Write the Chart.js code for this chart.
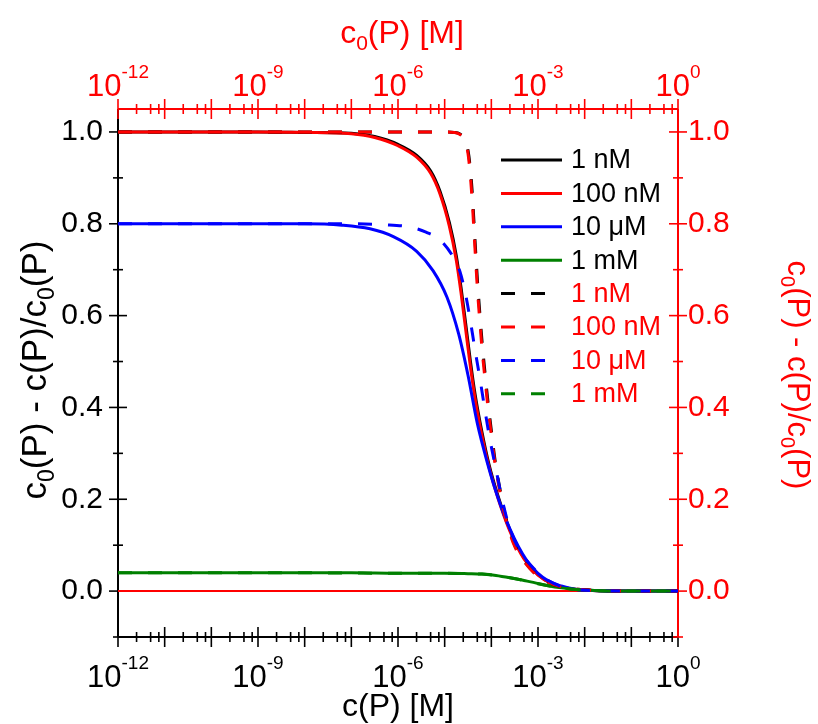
<!DOCTYPE html>
<html>
<head>
<meta charset="utf-8">
<script src="https://cdn.jsdelivr.net/npm/chart.js@4/dist/chart.umd.min.js"></script>
<style>
  html, body { margin: 0; padding: 0; background: #fff; }
  #wrap { width: 818px; height: 724px; }
</style>
</head>
<body>
<div id="wrap"><canvas id="chart" width="818" height="724"></canvas></div>
<script>
// log10 of c(P) (solid) or c0(P) (dashed) in M, with the fraction
const expSolidBlack = [-12, -9, -8, -7, -6.5, -6.0, -5.6, -5.3, -5.1, -4.9, -4.75, -4.65, -4.55, -4.45, -4.35, -4.2, -4.05, -3.85, -3.6, -3.3, -3.0, -2.7, -2.3, -1.7, -1, 0];
const valSolidBlack = [1.0, 1.0, 0.999, 0.997, 0.99, 0.973, 0.949, 0.915, 0.871, 0.803, 0.73, 0.662, 0.583, 0.502, 0.43, 0.346, 0.276, 0.205, 0.133, 0.072, 0.036, 0.016, 0.005, 0.001, 0, 0];

const expSolidRed = [-12, -9, -8, -7, -6.5, -6.0, -5.6, -5.3, -5.1, -4.9, -4.75, -4.65, -4.55, -4.45, -4.35, -4.2, -4.05, -3.85, -3.6, -3.3, -3.0, -2.7, -2.3, -1.7, -1, 0];
const valSolidRed = [1.0, 1.0, 0.999, 0.996, 0.988, 0.97, 0.945, 0.91, 0.865, 0.795, 0.72, 0.65, 0.57, 0.49, 0.42, 0.338, 0.27, 0.2, 0.13, 0.07, 0.035, 0.016, 0.005, 0.001, 0, 0];

const expSolidBlue = [-12, -9, -8, -7.2, -6.6, -6.1, -5.6, -5.25, -4.95, -4.7, -4.5, -4.3, -4.1, -3.88, -3.6, -3.25, -2.9, -2.5, -2.2, -1.7, -1, 0];
const valSolidBlue = [0.8, 0.8, 0.8, 0.797, 0.789, 0.772, 0.74, 0.698, 0.64, 0.56, 0.47, 0.365, 0.285, 0.21, 0.135, 0.068, 0.03, 0.011, 0.004, 0.001, 0, 0];

const expSolidGreen = [-12, -9, -7, -6, -5, -4.5, -4.2, -3.9, -3.6, -3.3, -3.1, -2.75, -2.5, -2.25, -1.7, -1, 0];
const valSolidGreen = [0.04, 0.04, 0.04, 0.039, 0.039, 0.038, 0.037, 0.034, 0.029, 0.023, 0.019, 0.011, 0.007, 0.004, 0.001, 0, 0];

const expDashBlack = [-12, -9, -6, -5, -4.8, -4.68, -4.58, -4.5, -4.45, -4.41, -4.37, -4.33, -4.29, -4.25, -4.2, -4.14, -4.08, -4.0, -3.92, -3.82, -3.73, -3.62, -3.49, -3.34, -3.1, -2.8, -2.5, -2.15, -1.6, -1, 0];
const valDashBlack = [1.0, 1.0, 1.0, 1.0, 0.999, 0.996, 0.986, 0.96, 0.92, 0.87, 0.8, 0.73, 0.665, 0.61, 0.545, 0.48, 0.42, 0.35, 0.285, 0.225, 0.178, 0.135, 0.098, 0.072, 0.042, 0.02, 0.009, 0.004, 0.001, 0, 0];

const expDashRed = [-12, -9, -6, -5, -4.8, -4.68, -4.58, -4.5, -4.45, -4.41, -4.37, -4.33, -4.29, -4.25, -4.2, -4.14, -4.08, -4.0, -3.92, -3.82, -3.73, -3.62, -3.49, -3.34, -3.1, -2.8, -2.5, -2.15, -1.6, -1, 0];
const valDashRed = [1.0, 1.0, 1.0, 1.0, 0.999, 0.995, 0.983, 0.953, 0.905, 0.85, 0.78, 0.71, 0.645, 0.592, 0.528, 0.466, 0.407, 0.34, 0.277, 0.218, 0.173, 0.131, 0.095, 0.07, 0.041, 0.02, 0.009, 0.004, 0.001, 0, 0];

const expDashBlue = [-12, -9, -7, -6.3, -5.75, -5.4, -5.1, -4.82, -4.67, -4.55, -4.46, -4.35, -4.24, -4.14, -4.03, -3.9, -3.77, -3.6, -3.4, -3.1, -2.8, -2.3, -1.7, -1, 0];
const valDashBlue = [0.8, 0.8, 0.8, 0.798, 0.793, 0.782, 0.765, 0.728, 0.695, 0.645, 0.595, 0.526, 0.46, 0.396, 0.33, 0.265, 0.2, 0.135, 0.09, 0.05, 0.024, 0.005, 0.001, 0, 0];

const expDashGreen = [-12, -9, -6, -5, -4.5, -4.2, -3.9, -3.6, -3.3, -3.0, -2.75, -2.5, -2.25, -1.7, -1, 0];
const valDashGreen = [0.04, 0.04, 0.039, 0.039, 0.038, 0.037, 0.034, 0.029, 0.023, 0.016, 0.011, 0.007, 0.004, 0.001, 0, 0];

const expBaseline = [-12, 0];
const valBaseline = [0, 0];

const seriesLabels = ['1 nM', '100 nM', '10 \u03bcM', '1 mM'];
const labelExps = [-12, -9, -6, -3, 0];
const yMajor = [0, 0.2, 0.4, 0.6, 0.8, 1.0];
const yMinor = [-0.1, 0.1, 0.3, 0.5, 0.7, 0.9];

// title pieces: [text, is subscript]
const xTitle = [['c(P) [M]', false]];
const x2Title = [['c', false], ['0', true], ['(P) [M]', false]];
const yTitle = [['c', false], ['0', true], ['(P) - c(P)/c', false], ['0', true], ['(P)', false]];

const RED = '#ff0000';
const FONT = '"Liberation Sans", Arial, sans-serif';
const DASH = [14, 16];

function pts(exps, vals) {
    return exps.map((e, i) => ({x: Math.pow(10, e), y: vals[i]}));
}

function line(label, exps, vals, color, dashed, order) {
    return {
        label: label,
        data: pts(exps, vals),
        borderColor: color,
        borderWidth: 3,
        borderDash: dashed ? DASH : [],
        xAxisID: dashed ? 'x2' : 'x',
        yAxisID: 'y',
        pointRadius: 0,
        cubicInterpolationMode: 'monotone',
        order: order
    };
}

var datasets = [
    line(seriesLabels[0], expSolidBlack, valSolidBlack, '#000000', false, 8),
    line(seriesLabels[1], expSolidRed, valSolidRed, RED, false, 7),
    line(seriesLabels[2], expSolidBlue, valSolidBlue, '#0000ff', false, 6),
    line(seriesLabels[3], expSolidGreen, valSolidGreen, '#008000', false, 5),
    line(seriesLabels[0], expDashBlack, valDashBlack, '#000000', true, 4),
    line(seriesLabels[1], expDashRed, valDashRed, RED, true, 3),
    line(seriesLabels[2], expDashBlue, valDashBlue, '#0000ff', true, 2),
    line(seriesLabels[3], expDashGreen, valDashGreen, '#008000', true, 1)
];
var baseline = line('', expBaseline, valBaseline, RED, false, 9);
baseline.borderWidth = 2;
datasets.push(baseline);

// axis lines with ticks crossing the axis, Origin style
function drawTick(ctx, horizontal, pos, edge, len) {
    ctx.beginPath();
    if (horizontal) { ctx.moveTo(pos, edge - len); ctx.lineTo(pos, edge + len); }
    else { ctx.moveTo(edge - len, pos); ctx.lineTo(edge + len, pos); }
    ctx.stroke();
}

function drawLogAxis(ctx, scale, edge, color) {
    ctx.strokeStyle = color;
    ctx.lineWidth = 2;
    ctx.beginPath(); ctx.moveTo(scale.left, edge); ctx.lineTo(scale.right, edge); ctx.stroke();
    ctx.lineWidth = 1.6;
    for (var e = -12; e <= 0; e++) {
        drawTick(ctx, true, scale.getPixelForValue(Math.pow(10, e)), edge, 10);
        if (e < 0) {
            [2.5, 5, 7.5].forEach(m => drawTick(ctx, true, scale.getPixelForValue(m * Math.pow(10, e)), edge, 5));
        }
    }
}

function drawLinAxis(ctx, scale, edge, color) {
    ctx.strokeStyle = color;
    ctx.lineWidth = 2;
    ctx.beginPath(); ctx.moveTo(edge, scale.top); ctx.lineTo(edge, scale.bottom); ctx.stroke();
    ctx.lineWidth = 1.6;
    yMajor.forEach(v => drawTick(ctx, false, scale.getPixelForValue(v), edge, 9));
    yMinor.forEach(v => drawTick(ctx, false, scale.getPixelForValue(v), edge, 5));
}

function drawPowers(ctx, scale, color, baseY) {
    ctx.fillStyle = color;
    ctx.textBaseline = 'alphabetic';
    ctx.textAlign = 'left';
    labelExps.forEach(e => {
        var px = scale.getPixelForValue(Math.pow(10, e));
        var sup = String(e);
        ctx.font = '31px ' + FONT;
        var wb = ctx.measureText('10').width;
        ctx.font = '19px ' + FONT;
        var ws = ctx.measureText(sup).width;
        var x0 = px - (wb + ws) / 2;
        ctx.font = '31px ' + FONT;
        ctx.fillText('10', x0, baseY);
        ctx.font = '19px ' + FONT;
        ctx.fillText(sup, x0 + wb, baseY - 18);
    });
}

// text with real subscripts, centred on (cx, base) after rotation
function drawTitle(ctx, parts, cx, base, rot, size, color) {
    var sub = Math.round(size * 0.65);
    var widths = parts.map(p => {
        ctx.font = (p[1] ? sub : size) + 'px ' + FONT;
        return ctx.measureText(p[0]).width;
    });
    var total = widths.reduce((a, b) => a + b, 0);
    ctx.save();
    ctx.translate(cx, base);
    ctx.rotate(rot);
    ctx.fillStyle = color;
    ctx.textAlign = 'left';
    ctx.textBaseline = 'alphabetic';
    var x = -total / 2;
    parts.forEach((p, i) => {
        ctx.font = (p[1] ? sub : size) + 'px ' + FONT;
        ctx.fillText(p[0], x, p[1] ? size * 0.22 : 0);
        x += widths[i];
    });
    ctx.restore();
}

const axesPlugin = {
    id: 'originAxes',
    beforeDatasetsDraw(chart) {
        const ctx = chart.ctx;
        const s = chart.scales;
        const area = chart.chartArea;
        const midX = (area.left + area.right) / 2;
        const midY = (area.top + area.bottom) / 2;
        ctx.save();
        drawLogAxis(ctx, s.x, s.x.top, '#000000');
        drawLinAxis(ctx, s.y, s.y.right, '#000000');
        drawLogAxis(ctx, s.x2, s.x2.bottom, RED);
        drawLinAxis(ctx, s.y2, s.y2.left, RED);
        drawPowers(ctx, s.x, '#000000', s.x.top + 50);
        drawPowers(ctx, s.x2, RED, s.x2.bottom - 13);
        drawTitle(ctx, xTitle, midX, 716, 0, 32, '#000000');
        drawTitle(ctx, x2Title, midX + 4, 43, 0, 32, RED);
        drawTitle(ctx, yTitle, 46, midY - 3, -Math.PI / 2, 35, '#000000');
        drawTitle(ctx, yTitle, 788, midY + 2, Math.PI / 2, 31, RED);
        ctx.restore();
    }
};

const legendPlugin = {
    id: 'insideLegend',
    afterDatasetsDraw(chart) {
        const ctx = chart.ctx;
        var y = 160;
        ctx.save();
        chart.data.datasets.forEach(ds => {
            if (!ds.label) return;
            var dashed = ds.borderDash.length > 0;
            ctx.strokeStyle = ds.borderColor;
            ctx.lineWidth = 3;
            ctx.setLineDash(ds.borderDash);
            ctx.beginPath(); ctx.moveTo(501, y); ctx.lineTo(dashed ? 550 : 562, y); ctx.stroke();
            ctx.setLineDash([]);
            ctx.fillStyle = dashed ? RED : '#000000';
            ctx.font = '27px ' + FONT;
            ctx.textBaseline = 'middle';
            ctx.textAlign = 'left';
            ctx.fillText(ds.label, 571, y + 1);
            y += 33.4;
        });
        ctx.restore();
    }
};

function logAxis(position, size) {
    return {
        type: 'logarithmic',
        position: position,
        min: 1e-12,
        max: 1,
        grid: {display: false, drawTicks: false},
        border: {display: false},
        ticks: {display: false},
        afterFit: axis => { axis.height = size; }
    };
}

function linAxis(position, color, size, tickPad) {
    return {
        type: 'linear',
        position: position,
        min: -0.1,
        max: 1.05,
        grid: {display: false, drawTicks: false},
        border: {display: false},
        ticks: {
            stepSize: 0.1,
            includeBounds: false,
            autoSkip: false,
            padding: tickPad,
            color: color,
            font: {family: FONT, size: 30},
            callback: v => (Math.round(v * 10) % 2 === 0 && v > -0.05) ? v.toFixed(1) : ''
        },
        afterFit: axis => { axis.width = size; }
    };
}

new Chart(document.getElementById('chart'), {
    type: 'line',
    data: {datasets: datasets},
    options: {
        responsive: false,
        animation: false,
        layout: {padding: 0},
        plugins: {legend: {display: false}, tooltip: {enabled: false}},
        scales: {
            x: logAxis('bottom', 87),
            x2: logAxis('top', 109),
            y: linAxis('left', '#000000', 118, 15),
            y2: linAxis('right', RED, 140, 10)
        }
    },
    plugins: [axesPlugin, legendPlugin]
});
</script>
</body>
</html>
